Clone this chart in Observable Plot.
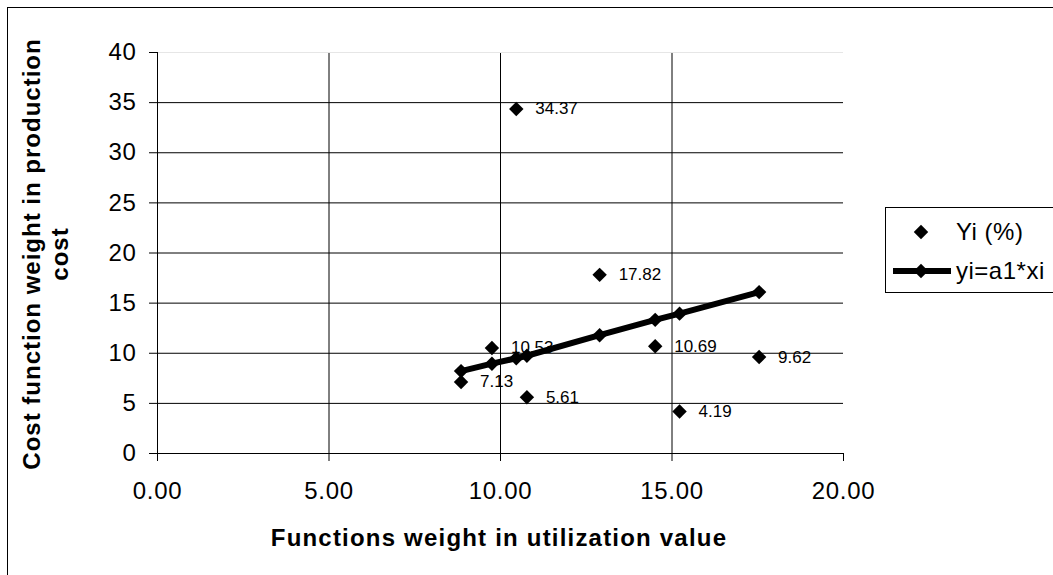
<!DOCTYPE html>
<html>
<head>
<meta charset="utf-8">
<script src="https://cdn.jsdelivr.net/npm/d3@7"></script>
<script src="https://cdn.jsdelivr.net/npm/@observablehq/plot@0.6"></script>
<style>
  html, body { margin: 0; padding: 0; background: #fff; overflow: hidden; }
  #wrap { position: relative; width: 1053px; height: 575px; overflow: hidden; font-family: "Liberation Sans", Arial, sans-serif; }
  #frame { position: absolute; left: 7px; top: 7px; width: 1100px; height: 620px; border: 1px solid #000; box-sizing: border-box; pointer-events: none; }
  #chart { position: absolute; left: 0; top: 0; }
  #legend { position: absolute; left: 885px; top: 207px; width: 200px; height: 86px; border: 1px solid #000; box-sizing: border-box; background: #fff; }
  #legend svg { position: absolute; left: 0; top: 0; }
</style>
</head>
<body>
<div id="wrap">
  <div id="chart"></div>
  <div id="legend"></div>
  <div id="frame"></div>
</div>
<script>
// Data
const xi = [8.85, 9.75, 10.46, 10.77, 12.89, 14.51, 15.22, 17.54];   // Functions weight in utilization value
const Yi = [7.13, 10.53, 34.37, 5.61, 17.82, 10.69, 4.19, 9.62];     // Yi (%)
const fit = [8.22, 8.96, 9.50, 9.75, 11.80, 13.33, 13.95, 16.10];    // yi = a1*xi
const xTicks = [0, 5, 10, 15, 20];
const yTicks = [0, 5, 10, 15, 20, 25, 30, 35, 40];
const seriesNames = ["Yi (%)", "yi=a1*xi"];

const points = xi.map((x, i) => ({x, y: Yi[i], label: Yi[i].toFixed(2)}));
const fitLine = xi.map((x, i) => ({x, y: fit[i]})).sort((a, b) => a.x - b.x);

const font = "Liberation Sans, Arial, sans-serif";

const chart = Plot.plot({
  width: 1053,
  height: 575,
  marginLeft: 157,
  marginRight: 210,
  marginTop: 52,
  marginBottom: 122,
  style: {fontFamily: font, background: "transparent", color: "#000"},
  x: {domain: [0, 20], axis: null},
  y: {domain: [0, 40], axis: null},
  marks: [
    Plot.gridX(xTicks.filter(d => d > 0 && d < 20), {stroke: "#000", strokeOpacity: 1, strokeWidth: 1}),
    Plot.gridY(yTicks.filter(d => d > 0 && d < 40), {stroke: "#000", strokeOpacity: 1, strokeWidth: 1}),
    Plot.ruleY([40], {stroke: "#e6e6e6", strokeWidth: 1}),
    Plot.ruleX([0], {stroke: "#000", strokeWidth: 1}),
    Plot.ruleY([0], {stroke: "#000", strokeWidth: 1}),
    Plot.axisY({ticks: yTicks, tickSize: 8, tickPadding: 13, fontSize: 24, label: null, tickFormat: d => String(d)}),
    Plot.axisX({ticks: xTicks, tickSize: 8, tickPadding: 20, fontSize: 24, label: null, tickFormat: d => d.toFixed(2)}),
    Plot.text(points, {x: "x", y: "y", text: "label", dx: 19, textAnchor: "start", fontSize: 17, fill: "#000"}),
    Plot.line(fitLine, {x: "x", y: "y", stroke: "#000", strokeWidth: 6}),
    Plot.dot(fitLine, {x: "x", y: "y", symbol: "diamond2", r: 6.5, fill: "#000", stroke: "none"}),
    Plot.dot(points, {x: "x", y: "y", symbol: "diamond2", r: 6.5, fill: "#000", stroke: "none"})
  ]
});
document.getElementById("chart").appendChild(chart);

const svg = d3.select(chart);
svg.selectAll('g[aria-label="x-axis tick label"] text, g[aria-label="y-axis tick label"] text')
  .style("letter-spacing", "0.7px");

// Axis titles
svg.append("text")
  .attr("x", 499).attr("y", 546)
  .attr("text-anchor", "middle")
  .attr("font-family", font).attr("font-size", 24).attr("font-weight", "bold")
  .style("letter-spacing", "1.2px")
  .attr("fill", "#000")
  .text("Functions weight in utilization value");
const yt = svg.append("text")
  .attr("transform", "translate(0,254) rotate(-90)")
  .attr("text-anchor", "middle")
  .attr("font-family", font).attr("font-size", 24).attr("font-weight", "bold")
  .style("letter-spacing", "1px")
  .attr("fill", "#000");
yt.append("tspan").attr("x", 0).attr("y", 40).text("Cost function weight in production");
yt.append("tspan").attr("x", 0).attr("y", 68).text("cost");

// Legend
const lg = d3.select("#legend").append("svg").attr("width", 200).attr("height", 86);
const sym = d3.symbol(d3.symbolDiamond2, Math.PI * 6.5 * 6.5);
lg.append("path").attr("d", sym()).attr("transform", "translate(35,24)").attr("fill", "#000");
lg.append("text").attr("x", 70).attr("y", 32).attr("font-family", font).attr("font-size", 24).style("letter-spacing", "0.5px").attr("fill", "#000").text(seriesNames[0]);
lg.append("line").attr("x1", 7).attr("x2", 65).attr("y1", 63).attr("y2", 63).attr("stroke", "#000").attr("stroke-width", 6);
lg.append("path").attr("d", sym()).attr("transform", "translate(35,63)").attr("fill", "#000");
lg.append("text").attr("x", 70).attr("y", 71).attr("font-family", font).attr("font-size", 24).style("letter-spacing", "0.5px").attr("fill", "#000").text(seriesNames[1]);
</script>
</body>
</html>
